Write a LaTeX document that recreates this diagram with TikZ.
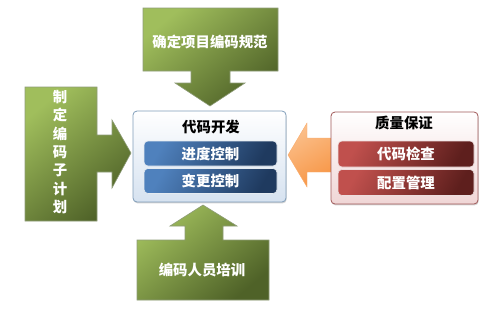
\documentclass[tikz,border=0pt]{standalone}
\usepackage{fontspec}
\usepackage{xcolor}
\usetikzlibrary{positioning,shadows}
\newfontfamily\cjk{Noto Sans CJK SC}
\definecolor{oliveLight}{HTML}{A0BE5C}
\definecolor{oliveDark}{HTML}{4F6228}
\definecolor{oliveLine}{HTML}{8E9C78}
\definecolor{blueLight}{HTML}{4F81BD}
\definecolor{blueDark}{HTML}{1F3A5F}
\definecolor{blueLine}{HTML}{7F9DB9}
\definecolor{blueMist}{HTML}{D6E2F0}
\definecolor{redLight}{HTML}{C0504D}
\definecolor{redDark}{HTML}{5E1F1D}
\definecolor{redLine}{HTML}{A05858}
\definecolor{redMist}{HTML}{F0D6D6}
\definecolor{orangeMain}{HTML}{F79646}
\definecolor{orangeSoft}{HTML}{FBC08C}

\begin{document}
\begin{tikzpicture}[
  x=1pt,
  y=-1pt,
  callout/.style={draw=oliveLine, line width=0.6pt, top color=oliveLight, bottom color=oliveDark,
    shading angle=40},
  calltext/.style={font=\cjk\bfseries\fontsize{14.4}{18.4}\selectfont, text=white, align=center},
  devbox/.style={rounded corners=4pt, draw=blueLine, line width=0.8pt, top color=white,
    bottom color=blueMist, drop shadow={shadow xshift=0.6pt, shadow yshift=-1.4pt, opacity=0.35},
    inner sep=0pt, outer sep=0pt},
  qabox/.style={rounded corners=4pt, draw=redLine, line width=0.8pt, top color=white,
    bottom color=redMist, drop shadow={shadow xshift=0.6pt, shadow yshift=-1.4pt, opacity=0.35},
    inner sep=0pt, outer sep=0pt},
  bluebar/.style={rounded corners=4pt, draw=white!80!blueLine, line width=0.6pt, left color=blueLight,
    right color=blueDark, shading angle=60, minimum width=133pt, minimum height=25pt,
    inner sep=0pt, font=\cjk\bfseries\fontsize{14.4}{16}\selectfont, text=white},
  redbar/.style={rounded corners=4pt, draw=white!80!redLine, line width=0.6pt, left color=redLight,
    right color=redDark, shading angle=60, minimum width=136pt, minimum height=26pt,
    inner sep=0pt, font=\cjk\bfseries\fontsize{14.4}{16}\selectfont, text=white},
  title/.style={font=\cjk\bfseries\fontsize{14.4}{16}\selectfont, text=black},
  orangearrow/.style={draw=orangeMain!80!white, line width=0.4pt, top color=orangeSoft,
    bottom color=orangeMain, shading angle=30}
]
\useasboundingbox (0,0) rectangle (484,309);

% callouts
\path[callout] (143,8) -- (278,8) -- (278,71) -- (230,71) -- (230,83) -- (245,83) -- (210,106)
  -- (175,83) -- (191,83) -- (191,71) -- (143,71) -- cycle;
\node[calltext] (spec) at (210,42) {确定项目编码规范};

\path[callout] (25,87) -- (97,87) -- (97,135) -- (112,135) -- (112,120) -- (131,153) -- (112,188)
  -- (112,172) -- (97,172) -- (97,221) -- (25,221) -- cycle;
\node[calltext] (plan) at (60,152) {制\\定\\编\\码\\子\\计\\划};

\path[callout] (203,205) -- (237,226) -- (223,226) -- (223,240) -- (269,240) -- (269,300)
  -- (137,300) -- (137,240) -- (185,240) -- (185,226) -- (170,226) -- cycle;
\node[calltext] (train) at (202,270) {编码人员培训};

% orange arrow
\path[orangearrow] (288,155) -- (307,123) -- (307,138) -- (332,138) -- (332,172) -- (307,172)
  -- (307,187) -- cycle;

% development
\node[devbox, minimum width=153pt, minimum height=91pt] (dev) at (209.5,156.5) {};
\node[title] (devtitle) at (211,127) {代码开发};
\node[bluebar] (sched) at (210.5,153.5) {进度控制};
\node[bluebar] (change) at (210.5,181) {变更控制};

% quality
\node[qabox, minimum width=147pt, minimum height=92pt] (qa) at (404.5,158) {};
\node[title] (qatitle) at (404,123) {质量保证};
\node[redbar] (review) at (406,154) {代码检查};
\node[redbar] (config) at (406,182.5) {配置管理};
\end{tikzpicture}
\end{document}
